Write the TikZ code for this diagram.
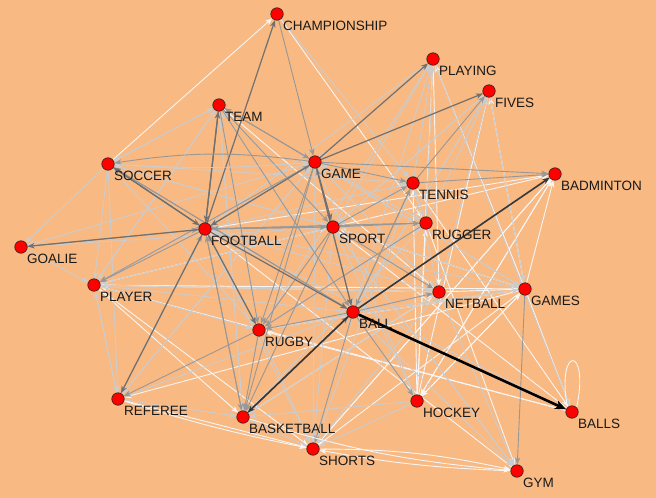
\documentclass[tikz,border=0pt]{standalone}
\usepackage{fontspec}
\setmainfont{Liberation Sans}
\usetikzlibrary{arrows.meta}
\definecolor{bgc}{RGB}{249,185,130}
\definecolor{cw}{RGB}{246,246,246}
\definecolor{cl}{RGB}{204,204,204}
\definecolor{cm}{RGB}{152,152,152}
\definecolor{cd}{RGB}{112,112,112}
\definecolor{ck}{RGB}{55,55,55}
\definecolor{txt}{RGB}{25,25,25}
\pgfdeclarelayer{bg}
\pgfdeclarelayer{edges}
\pgfsetlayers{bg,edges,main}
\begin{document}
\begin{tikzpicture}[x=1pt,y=-1pt,
  vert/.style={circle,draw=black!85,fill=red,line width=0.6pt,minimum size=12.5pt,inner sep=0pt},
  lab/.style={anchor=base west,inner sep=0pt,text=txt,font=\fontsize{13.5}{15}\selectfont},
  edge/.style={line width=0.9pt,-{Stealth[length=7pt,width=5.5pt,inset=2pt]}},
  ew/.style={edge,draw=cw},
  el/.style={edge,draw=cl},
  em/.style={edge,draw=cm},
  ed/.style={edge,draw=cd,line width=1.2pt},
  ek/.style={edge,draw=ck,line width=1.6pt},
  eb/.style={edge,draw=black,line width=2.6pt,-{Stealth[length=11pt,width=9pt,inset=3pt]}}
]
\begin{pgfonlayer}{bg}
\fill[bgc] (0,0) rectangle (656,498);
\end{pgfonlayer}
\useasboundingbox (0,0) rectangle (656,498);

\foreach \n/\x/\y/\t in {
  ch/277/14/CHAMPIONSHIP, playing/433/59/PLAYING, fives/489/91/FIVES,
  team/219/105/TEAM, soccer/108/164/SOCCER, game/315/162/GAME,
  badm/555/174/BADMINTON, tennis/413/183/TENNIS, football/205/229/FOOTBALL,
  sport/333/227/SPORT, rugger/426/223/RUGGER, goalie/21/247/GOALIE,
  player/94/285/PLAYER, netball/439/292/NETBALL, games/525/289/GAMES,
  ball/353/312/BALL, rugby/259/330/RUGBY, referee/118/399/REFEREE,
  basket/243/417/BASKETBALL, hockey/417/401/HOCKEY, balls/572/412/BALLS,
  shorts/313/449/SHORTS, gym/517/471/GYM}
{
  \node[vert] (\n) at (\x,\y) {};
  \node[lab] (\n-l) at (\x+6,\y+16.5) {\t};
}

\begin{pgfonlayer}{edges}
% white
\foreach \a/\b in {soccer/ch, netball/games, games/balls, games/badm, games/fives,
  games/playing, games/hockey, games/shorts, games/player, games/sport,
  hockey/fives, hockey/badm, hockey/games, hockey/tennis, hockey/rugger,
  rugby/games, basket/netball, referee/shorts, player/basket, player/sport,
  player/shorts, team/netball, ch/rugger, playing/netball, badm/hockey,
  badm/shorts, gym/football, football/badm, sport/badm, tennis/balls,
  rugger/gym, netball/player, balls/rugby, hockey/playing, shorts/badm,
  balls/player, balls/sport, games/referee}
  \draw[ew] (\a) -- (\b);
% light
\foreach \a/\b in {game/goalie, game/netball, game/rugger, game/games, game/hockey,
  game/shorts, football/netball, football/tennis, football/shorts,
  sport/team, sport/soccer, sport/player, sport/playing, sport/fives, sport/hockey,
  sport/games, sport/gym, sport/shorts, ball/games, ball/referee, ball/player,
  ball/team, ball/fives, ball/playing, ball/gym, tennis/playing, tennis/sport,
  tennis/game, tennis/rugger, tennis/soccer, tennis/shorts, rugger/sport,
  rugger/fives, rugger/playing, rugger/basket, netball/basket, netball/ball,
  netball/fives, netball/tennis, netball/shorts, netball/gym, games/rugby,
  games/game, games/football, hockey/ball, hockey/shorts, hockey/basket,
  rugby/shorts, rugby/team, rugby/rugger, rugby/ball, rugby/playing,
  basket/shorts, basket/team, referee/basket, referee/player, referee/game,
  player/team, player/game, player/rugby, player/referee, player/netball,
  soccer/player, soccer/goalie, soccer/team, soccer/rugby, soccer/referee,
  soccer/sport, team/soccer, team/player, team/basket, goalie/player,
  goalie/sport, ch/tennis, playing/game, playing/balls, playing/football,
  fives/games, fives/ball, fives/sport, badm/ball, balls/football, shorts/ball,
  gym/sport, game/referee}
  \draw[el] (\a) -- (\b);
% mid
\foreach \a/\b in {game/team, game/badm, game/tennis, game/rugby, game/player,
  game/basket, football/player, football/basket, football/sport, football/game,
  football/rugger, sport/football, sport/rugby, sport/basket, sport/tennis,
  sport/rugger, sport/netball, ball/netball, ball/rugby, ball/hockey,
  ball/game, ball/tennis, ball/soccer, ball/shorts, tennis/badm, tennis/fives,
  tennis/ball, rugger/rugby, rugger/football, games/gym, rugby/basket,
  rugby/referee, rugby/football, basket/football, referee/football,
  soccer/ball, team/game, team/rugby, team/sport, team/ball, goalie/football,
  ch/game}
  \draw[em] (\a) -- (\b);
% dark
\foreach \a/\b in {game/playing, game/fives, game/football, game/sport, game/ball,
  football/ch, football/soccer, football/goalie, football/referee, football/team,
  football/rugby, football/ball, basket/ball, soccer/football, team/football}
  \draw[ed] (\a) -- (\b);
% curved
\draw[em] (game) to[bend right=8] (soccer);
\draw[el] (soccer) to[bend right=4] (game);
\draw[ew] (shorts) to[bend left=6] (gym);
\draw[ew] (gym) to[bend left=4] (shorts);
\draw[ew] (basket) to[bend right=6] (gym);
\draw[ew] (referee) to[bend right=3] (shorts);
% darkest
\draw[ek] (ball) -- (badm);
\draw[ek] (ball) -- (basket);
\draw[eb] (ball) -- (balls);
% self loop
\draw[cw,line width=0.9pt] (balls.north west) .. controls (556,345) and (590,345) .. (balls.north east);
\end{pgfonlayer}
\end{tikzpicture}
\end{document}
